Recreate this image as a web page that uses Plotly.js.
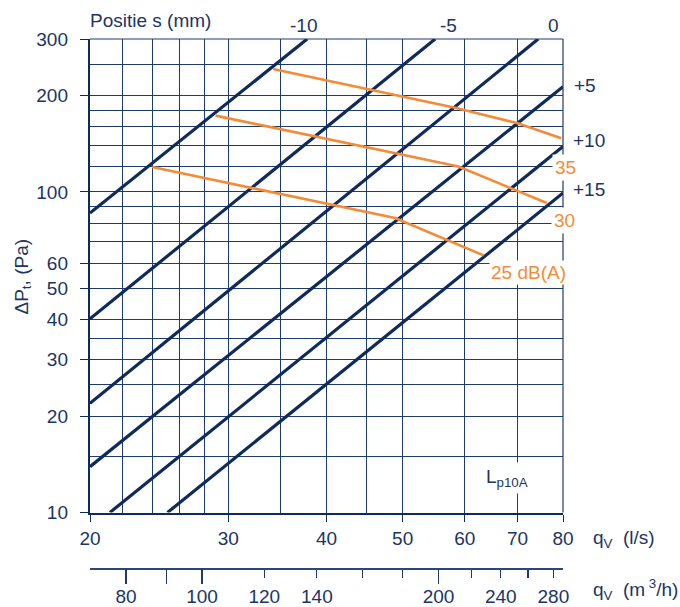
<!DOCTYPE html>
<html>
<head>
<meta charset="utf-8">
<script src="https://cdn.plot.ly/plotly-3.0.1.min.js"></script>
<style>
  html, body { margin: 0; padding: 0; background: #ffffff; }
  #chart { width: 680px; height: 607px; }
</style>
</head>
<body>
<div id="chart"></div>
<script>
// ---- Data ----
// Damper position lines (s in mm): start and end points (q in l/s, dp in Pa)
const positionLabels = ['-10', '-5', '0', '+5', '+10', '+15'];
const positionQStart = [20, 20, 20, 20, 21.2, 25.1];
const positionDpStart = [85.9, 40.2, 21.9, 13.9, 10, 10];
const positionQEnd = [37.8, 55.0, 74.4, 80, 80, 80];
const positionDpEnd = [300, 300, 300, 213, 138.7, 99.2];

// Sound level curves Lp10A
const noise35Q = [34.2, 58.3, 69.9, 79.6];
const noise35Dp = [242, 183, 164, 147];
const noise30Q = [28.9, 58.9, 68.5, 76.3];
const noise30Dp = [173, 120, 103, 92.4];
const noise25Q = [24.0, 48.9, 63.4];
const noise25Dp = [119.6, 82.9, 63.4];
const noiseLabels = ['35', '30', '25 dB(A)'];

// Axis ticks
const xTickVals = [20, 30, 40, 50, 60, 70, 80];
const xMinorVals = [22, 24, 26, 28, 35, 45];
const yTickVals = [10, 20, 30, 40, 50, 60, 100, 200, 300];
const yMinorVals = [15, 25, 35, 70, 80, 90, 120, 140, 160, 180, 250];
const m3hTickVals = [80, 90, 100, 120, 140, 160, 180, 200, 220, 240, 260, 280];
const m3hTickText = ['80', '', '100', '120', '140', '', '', '200', '', '240', '', '280'];
const m3hLongTicks = [80, 90, 100, 200];
const lsToM3h = 3.6;

// ---- Styling ----
const NAVY = '#0f2b5e';
const TEXT = '#1b3564';
const GRID = '#1f3a6d';
const ORANGE = '#f58b36';
const FONT = 'Liberation Sans, Arial, Helvetica, sans-serif';
const FS = 19;

const traces = [];
for (let i = 0; i < positionLabels.length; i++) {
  traces.push({
    type: 'scatter', mode: 'lines',
    x: [positionQStart[i], positionQEnd[i]],
    y: [positionDpStart[i], positionDpEnd[i]],
    line: { color: NAVY, width: 3.2 },
    hoverinfo: 'skip', showlegend: false, cliponaxis: true
  });
}
[[noise35Q, noise35Dp], [noise30Q, noise30Dp], [noise25Q, noise25Dp]].forEach(function (c) {
  traces.push({
    type: 'scatter', mode: 'lines', x: c[0], y: c[1],
    line: { color: ORANGE, width: 2.6 },
    hoverinfo: 'skip', showlegend: false
  });
});
// empty traces so the secondary (m3/h) axes exist
traces.push({ type: 'scatter', x: [], y: [], xaxis: 'x2', yaxis: 'y', showlegend: false, hoverinfo: 'skip' });
traces.push({ type: 'scatter', x: [], y: [], xaxis: 'x3', yaxis: 'y', showlegend: false, hoverinfo: 'skip' });

const W = 680, H = 607;
const mL = 90, mR = 117, mT = 39, mB = 39;
const plotW = W - mL - mR, plotH = H - mT - mB;
const yDomainBottom = (568 - 512.5) / plotH;
function px(x) { return (x - mL) / plotW; }
function py(y) { return (H - mB - y) / plotH; }

const xr = [Math.log10(20), Math.log10(80)];
const x2r = [Math.log10(20 * lsToM3h), Math.log10(80 * lsToM3h)];

const tickFont = { family: FONT, size: FS, color: TEXT };

function ann(text, x, y, opts) {
  return Object.assign({
    text: text, x: x, y: y, xref: 'paper', yref: 'paper',
    showarrow: false, font: { family: FONT, size: FS, color: TEXT },
    xanchor: 'center', yanchor: 'middle'
  }, opts || {});
}

const annotations = [
  ann('Positie s (mm)', px(88), py(21), { xanchor: 'left' }),
  ann(positionLabels[0], px(303), py(26)),
  ann(positionLabels[1], px(448), py(26)),
  ann(positionLabels[2], px(553), py(26)),
  ann(positionLabels[3], px(572), py(85), { xanchor: 'left' }),
  ann(positionLabels[4], px(571), py(140), { xanchor: 'left' }),
  ann(positionLabels[5], px(571), py(189), { xanchor: 'left' }),
  ann(noiseLabels[0], px(565.5), py(167), { font: { family: FONT, size: FS, color: ORANGE }, bgcolor: '#ffffff', borderpad: 2 }),
  ann(noiseLabels[1], px(564), py(221), { font: { family: FONT, size: FS, color: ORANGE }, bgcolor: '#ffffff', borderpad: 2 }),
  ann(noiseLabels[2], px(528.5), py(272.5), { font: { family: FONT, size: FS, color: ORANGE }, bgcolor: '#ffffff', borderpad: 1 }),
  ann('L<sub>p10A</sub>', px(506.5), py(478), { bgcolor: '#ffffff', borderpad: 3 }),
  ann('q<sub>V</sub>  (l/s)', px(591), py(539), { xanchor: 'left' }),
  ann('q<sub>V</sub>  (m<sup> 3</sup>/h)', px(591), py(605), { xanchor: 'left', yanchor: 'bottom' }),
  ann('ΔP<sub>t</sub>, (Pa)', px(22), py(276.5), { textangle: -90 })
];

const layout = {
  width: W, height: H,
  margin: { l: mL, r: mR, t: mT, b: mB, pad: 0 },
  paper_bgcolor: '#ffffff', plot_bgcolor: '#ffffff',
  showlegend: false,
  font: { family: FONT, size: FS, color: TEXT },
  xaxis: {
    type: 'log', range: xr, autorange: false, anchor: 'y',
    tickmode: 'array', tickvals: xTickVals, ticktext: xTickVals.map(String),
    ticks: 'outside', ticklen: 7, tickwidth: 1, tickcolor: NAVY,
    tickfont: tickFont, ticklabelstandoff: 0,
    showgrid: true, gridcolor: GRID, gridwidth: 1,
    minor: { tickmode: 'array', tickvals: xMinorVals, showgrid: true, gridcolor: GRID, gridwidth: 1, ticks: '' },
    showline: true, linecolor: NAVY, linewidth: 2.5, zeroline: false, fixedrange: true
  },
  xaxis2: {
    type: 'log', range: x2r, autorange: false, overlaying: 'x', anchor: 'free', position: 0, side: 'bottom',
    tickmode: 'array', tickvals: m3hTickVals, ticktext: m3hTickText,
    ticks: 'outside', ticklen: 8, tickwidth: 1.2, tickcolor: GRID,
    tickfont: tickFont, ticklabelstandoff: 3,
    showgrid: false, showline: true, linecolor: '#2c4677', linewidth: 1.5, zeroline: false, fixedrange: true
  },
  xaxis3: {
    type: 'log', range: x2r, autorange: false, overlaying: 'x', anchor: 'free', position: 0, side: 'bottom',
    tickmode: 'array', tickvals: m3hLongTicks, ticktext: m3hLongTicks.map(function () { return ''; }),
    ticks: 'outside', ticklen: 15, tickwidth: 1.2, tickcolor: GRID,
    showticklabels: false, showgrid: false, showline: false, zeroline: false, fixedrange: true
  },
  yaxis: {
    type: 'log', range: [1, Math.log10(300)], autorange: false, domain: [yDomainBottom, 1],
    tickmode: 'array', tickvals: yTickVals, ticktext: yTickVals.map(String),
    ticks: 'outside', ticklen: 8, tickwidth: 1, tickcolor: NAVY,
    tickfont: tickFont, ticklabelstandoff: 8,
    showgrid: true, gridcolor: GRID, gridwidth: 1,
    minor: { tickmode: 'array', tickvals: yMinorVals, showgrid: true, gridcolor: GRID, gridwidth: 1, ticks: '' },
    showline: true, linecolor: NAVY, linewidth: 2.2, zeroline: false, fixedrange: true
  },
  shapes: [
    { type: 'line', xref: 'paper', yref: 'paper', x0: 1, x1: 1, y0: yDomainBottom, y1: 1, line: { color: GRID, width: 1.2 }, layer: 'below' },
    { type: 'line', xref: 'paper', yref: 'paper', x0: 0, x1: 1, y0: 1, y1: 1, line: { color: GRID, width: 1.2 }, layer: 'below' }
  ],
  annotations: annotations
};

Plotly.newPlot('chart', traces, layout, { staticPlot: true, displayModeBar: false });
</script>
</body>
</html>
